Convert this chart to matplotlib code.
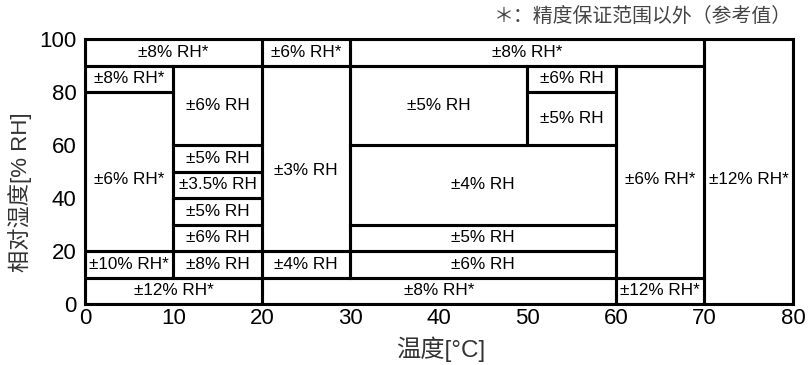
import matplotlib
matplotlib.use("Agg")
import matplotlib.pyplot as plt
import numpy as np

# accuracy regions: temperature range [°C], humidity range [%RH], label
t_lo = [0, 20, 30, 70, 0, 0, 10, 10, 10, 10, 10, 10, 0, 0, 20, 20, 30, 50, 50, 30, 30, 30, 20, 60, 60]
t_hi = [20, 30, 70, 80, 10, 10, 20, 20, 20, 20, 20, 20, 10, 20, 30, 30, 50, 60, 60, 60, 60, 60, 60, 70, 70]
rh_lo = [90, 90, 90, 0, 80, 20, 60, 50, 40, 30, 20, 10, 10, 0, 20, 10, 60, 80, 60, 30, 20, 10, 0, 10, 0]
rh_hi = [100, 100, 100, 100, 90, 80, 90, 60, 50, 40, 30, 20, 20, 10, 90, 20, 90, 90, 80, 60, 30, 20, 10, 90, 10]
labels = ["±8% RH*", "±6% RH*", "±8% RH*", "±12% RH*", "±8% RH*", "±6% RH*",
          "±6% RH", "±5% RH", "±3.5% RH", "±5% RH", "±6% RH", "±8% RH",
          "±10% RH*", "±12% RH*", "±3% RH", "±4% RH", "±5% RH", "±6% RH",
          "±5% RH", "±4% RH", "±5% RH", "±6% RH", "±8% RH*", "±6% RH*", "±12% RH*"]

x_ticks = [0, 10, 20, 30, 40, 50, 60, 70, 80]
y_ticks = [0, 20, 40, 60, 80, 100]

plt.rcParams['font.family'] = ['Liberation Sans', 'Noto Sans CJK SC', 'DejaVu Sans']

fig = plt.figure(figsize=(8.11, 3.65), dpi=100)
ax = fig.add_axes([0.1048, 0.167, 0.8730, 0.726])

t_lo, t_hi = np.array(t_lo), np.array(t_hi)
rh_lo, rh_hi = np.array(rh_lo), np.array(rh_hi)

ax.bar(t_lo, rh_hi - rh_lo, width=t_hi - t_lo, bottom=rh_lo, align='edge',
       fill=False, edgecolor='black', linewidth=2.2, zorder=2)

for i, lab in enumerate(labels):
    xc = (t_lo[i] + t_hi[i]) / 2
    yc = (rh_lo[i] + rh_hi[i]) / 2
    if rh_hi[i] - rh_lo[i] >= 60:
        yc = 50.5 if lab == "±3% RH" else 47
    ax.text(xc, yc, lab, ha='center', va='center', fontsize=12.3, color='black')

ax.set_xlim(0, 80)
ax.set_ylim(0, 100)
ax.set_xticks(x_ticks)
ax.set_yticks(y_ticks)
ax.tick_params(axis='x', length=0, pad=3, labelsize=16)
ax.tick_params(axis='y', length=0, pad=6, labelsize=16)
for s in ax.spines.values():
    s.set_linewidth(2.2)

fig.text(0.5437, 0.044, "温度[°C]", ha='center', va='center', fontsize=17.5, color='#333333')
fig.text(0.0247, 0.474, "相对湿度[% RH]", ha='center', va='center', rotation=90,
         fontsize=16, color='#333333')
fig.text(0.977, 0.955, "＊：精度保证范围以外（参考值）", ha='right', va='center',
         fontsize=14.3, color='#444444', family=['Noto Sans CJK SC', 'DejaVu Sans'])

fig.savefig("out.png", dpi=100)
